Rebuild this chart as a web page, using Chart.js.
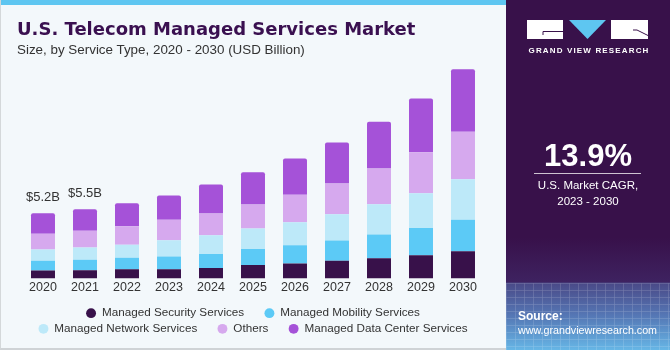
<!DOCTYPE html>
<html>
<head>
<meta charset="utf-8">
<script src="https://cdn.jsdelivr.net/npm/chart.js@4"></script>
<style>
  html, body { margin:0; padding:0; width:670px; height:350px; overflow:hidden; background:#f3f8fb; }
  #left { position:absolute; left:0; top:0; width:506px; height:350px; background:#f3f8fb; }
  #leftBorder { position:absolute; left:0; top:0; width:505px; height:348px; border-left:1px solid #d4d8da; border-bottom:2px solid #cfd3d6; box-sizing:content-box; }
  #strip { position:absolute; left:0; top:0; width:506px; height:5px; background:#5ec6f1; }
  #chartBox { position:absolute; left:0; top:0; width:506px; height:350px; }
  #title { position:absolute; left:17px; top:20px; font-family:"DejaVu Sans"; font-weight:bold; font-size:18px; line-height:18px; color:#3a1050; white-space:nowrap; }
  #subtitle { position:absolute; left:17px; top:43px; font-family:"Liberation Sans"; font-size:13.4px; line-height:13.4px; color:#333; white-space:nowrap; }
  #panel { position:absolute; left:506px; top:0; width:164px; height:350px;
    background: linear-gradient(to bottom, #38114a 0%, #38114a 68%, #3e2260 80.5%, #4a4a88 81%, #5576b4 90%, #66b6e6 100%); overflow:hidden; }
  #mesh { position:absolute; left:0; top:283px; width:164px; height:67px; opacity:0.22;
    background-image: repeating-linear-gradient(to right, rgba(255,255,255,0.6) 0 1px, transparent 1px 9px),
                      repeating-linear-gradient(to bottom, rgba(255,255,255,0.6) 0 1px, transparent 1px 7px); }
  .ptext { position:absolute; left:0; width:164px; text-align:center; color:#fff; font-family:"Liberation Sans"; white-space:nowrap; }
</style>
</head>
<body>
<div id="left"></div>
<div id="strip"></div>
<div id="chartBox"><canvas id="c" width="506" height="350"></canvas></div>
<div id="leftBorder"></div>
<div id="title">U.S. Telecom Managed Services Market</div>
<div id="subtitle">Size, by Service Type, 2020 - 2030 (USD Billion)</div>
<div id="panel">
  <div id="mesh"></div>
  <svg style="position:absolute;left:0;top:0" width="164" height="60">
    <rect x="21" y="20" width="36" height="19" fill="#fff"/>
    <polyline points="57,31.5 37,31.5 37,35" fill="none" stroke="#38114a" stroke-width="1"/>
    <polygon points="63,20 100,20 81.5,39" fill="#5ec6f1"/>
    <rect x="105" y="20" width="37" height="19" fill="#fff"/>
    <polyline points="127,30 131,30 142,35.5" fill="none" stroke="#38114a" stroke-width="1"/>
  </svg>
  <div class="ptext" style="top:46px;font-size:8px;line-height:9px;font-weight:bold;letter-spacing:1.15px;padding-left:1px;">GRAND VIEW RESEARCH</div>
  <div class="ptext" style="top:139.5px;font-size:31px;line-height:31px;font-weight:bold;">13.9%</div>
  <div style="position:absolute;left:28px;top:173px;width:107px;height:1px;background:rgba(255,255,255,0.75);"></div>
  <div class="ptext" style="top:177px;font-size:11.5px;line-height:16px;">U.S. Market CAGR,<br>2023 - 2030</div>
  <div class="ptext" style="left:12px;text-align:left;top:309px;font-size:12px;line-height:14px;font-weight:bold;">Source:</div>
  <div class="ptext" style="left:12px;text-align:left;top:322.5px;font-size:10.7px;line-height:14px;">www.grandviewresearch.com</div>
</div>
<script>
const years = ['2020','2021','2022','2023','2024','2025','2026','2027','2028','2029','2030'];
const security   = [0.64, 0.66, 0.74, 0.74, 0.85, 1.09, 1.19, 1.41, 1.62, 1.86, 2.17];
const mobility   = [0.77, 0.83, 0.91, 1.01, 1.11, 1.27, 1.46, 1.62, 1.89, 2.15, 2.50];
const network    = [0.90, 0.98, 1.04, 1.30, 1.48, 1.62, 1.83, 2.09, 2.39, 2.76, 3.23];
const others     = [1.25, 1.33, 1.46, 1.62, 1.73, 1.91, 2.18, 2.44, 2.84, 3.26, 3.77];
const dataCenter = [1.64, 1.70, 1.83, 1.93, 2.31, 2.55, 2.89, 3.26, 3.71, 4.28, 4.96];
const totalLabels = ['$5.2B', '$5.5B', '', '', '', '', '', '', '', '', ''];
const seriesNames = ['Managed Security Services', 'Managed Mobility Services', 'Managed Network Services', 'Others', 'Managed Data Center Services'];
const seriesColors = ['#38114a', '#5ccaf6', '#bde9f9', '#d6a9ee', '#a552d8'];

const FONT = 'Liberation Sans';
const seriesData = [security, mobility, network, others, dataCenter];

const totalsPlugin = {
  id: 'totals',
  afterDatasetsDraw(chart) {
    const ctx = chart.ctx;
    const xs = chart.scales.x, ys = chart.scales.y;
    ctx.save();
    ctx.font = '13px "' + FONT + '"';
    ctx.fillStyle = '#333';
    ctx.textAlign = 'center';
    ctx.textBaseline = 'middle';
    totalLabels.forEach((t, i) => {
      if (!t) return;
      const total = seriesData.reduce((s, arr) => s + arr[i], 0);
      ctx.fillText(t, xs.getPixelForValue(i), ys.getPixelForValue(total) - 16);
    });
    ctx.restore();
  }
};

// extra spacing after items that are followed by another item on the same legend row
const gapAfter = [true, false, true, true, false];

new Chart(document.getElementById('c'), {
  type: 'bar',
  data: {
    labels: years,
    datasets: seriesData.map((d, i) => ({
      label: seriesNames[i],
      data: d,
      backgroundColor: seriesColors[i],
      borderWidth: 0,
      borderRadius: i === 4 ? {topLeft: 2, topRight: 2, bottomLeft: 0, bottomRight: 0} : 0,
      borderSkipped: false,
      barPercentage: 0.571,
      categoryPercentage: 1.0
    }))
  },
  options: {
    responsive: false,
    animation: false,
    layout: { padding: { left: 22, right: 22, top: 52, bottom: 5.3 } },
    plugins: {
      tooltip: { enabled: false },
      legend: {
        position: 'bottom',
        labels: {
          usePointStyle: true,
          pointStyle: 'circle',
          boxWidth: 10,
          boxHeight: 7,
          padding: 4,
          color: '#333',
          font: { family: FONT, size: 11.7 },
          generateLabels(chart) {
            const items = Chart.defaults.plugins.legend.labels.generateLabels(chart);
            items.forEach((it, i) => {
              it.text = it.text + (gapAfter[i] ? '\u0020\u0020\u0020\u0020\u0020' : '');
              it.pointStyle = 'circle';
              it.lineWidth = 0;
              it.strokeStyle = 'transparent';
            });
            return items;
          }
        }
      }
    },
    scales: {
      x: {
        stacked: true,
        grid: { display: false, drawTicks: false },
        border: { display: false },
        ticks: { color: '#333', padding: 1.5, font: { family: FONT, size: 12.5 } },
        afterFit(scale) { scale.height += 6.7; }
      },
      y: {
        stacked: true,
        display: false,
        min: 0,
        max: 18
      }
    }
  },
  plugins: [totalsPlugin]
});
</script>
</body>
</html>
